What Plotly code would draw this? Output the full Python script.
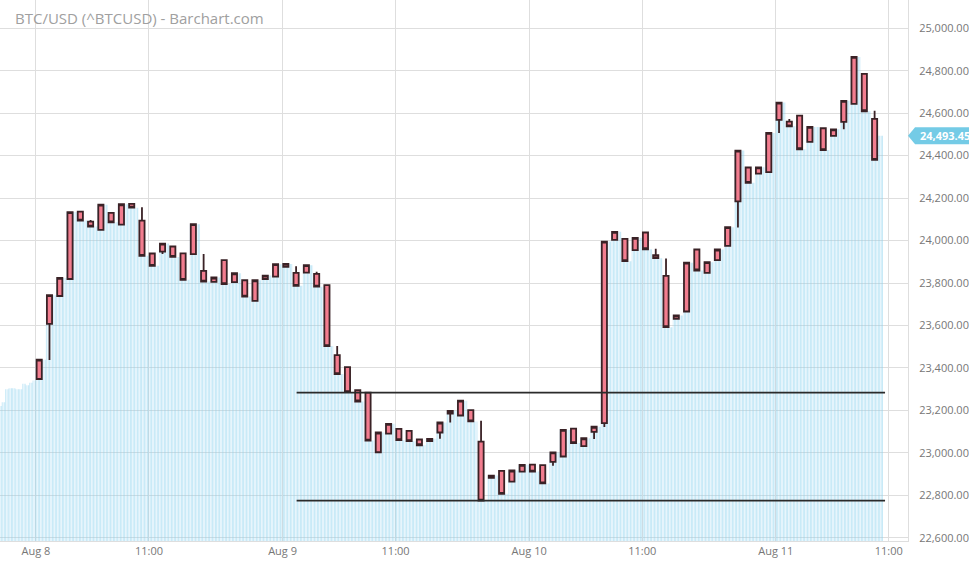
import pandas as pd
import plotly.graph_objects as go

# ---------------- data ----------------
title_text = "BTC/USD (^BTCUSD) - Barchart.com"

# hourly candles (timestamps of candle centres)
candle_times = (list(pd.date_range("2022-08-08 00:19", periods=76, freq="h")) +
                list(pd.date_range("2022-08-11 04:37", periods=6, freq="h")))

opens = [23348, 23608, 23739, 23819, 24136, 24089, 24050, 24130, 24075, 24173,
         24094, 23939, 23948, 23972, 23940, 23936, 23857, 23805, 23908, 23804,
         23813, 23716, 23819, 23830, 23876, 23848, 23849, 23843, 23790, 23460,
         23404, 23295, 23284, 23003, 23091, 23113, 23104, 23063, 23055, 23096,
         23185, 23176, 23201, 23053, 22882, 22915, 22865, 22912, 22945, 22942,
         22958, 22983, 23114, 23032, 23099, 23140, 24003, 24008, 23955, 24038,
         23931, 23834, 23631, 23666, 23958, 23848, 23908, 23975, 24185, 24344,
         24315, 24322, 24568, 24560, 24588, 24465, 24529, 24493, 24559, 24644,
         24785, 24573]
highs = [23439, 23743, 23824, 24134, 24136, 24097, 24169, 24130, 24171, 24173,
         24157, 23939, 23986, 23972, 23940, 24077, 23937, 23826, 23908, 23846,
         23813, 23813, 23835, 23889, 23890, 23879, 23884, 23853, 23790, 23503,
         23404, 23295, 23284, 23096, 23137, 23113, 23104, 23063, 23066, 23143,
         23198, 23246, 23201, 23151, 22893, 22915, 22917, 22944, 22945, 22942,
         23002, 23108, 23114, 23069, 23123, 23995, 24041, 24008, 24013, 24038,
         23961, 23915, 23647, 23896, 23958, 23898, 23958, 24063, 24424, 24344,
         24345, 24507, 24650, 24572, 24588, 24535, 24529, 24524, 24658, 24865,
         24785, 24611]
lows = [23348, 23438, 23739, 23819, 24094, 24066, 24050, 24086, 24075, 24155,
        23928, 23881, 23937, 23923, 23815, 23936, 23807, 23805, 23795, 23804,
        23736, 23716, 23819, 23830, 23876, 23787, 23849, 23783, 23503, 23371,
        23286, 23242, 23058, 23003, 23091, 23060, 23055, 23036, 23055, 23066,
        23143, 23176, 23148, 22775, 22882, 22807, 22865, 22912, 22912, 22856,
        22939, 22983, 23046, 23032, 23065, 23122, 24003, 23903, 23955, 23959,
        23917, 23592, 23631, 23666, 23859, 23848, 23908, 23975, 24061, 24272,
        24315, 24322, 24507, 24538, 24430, 24465, 24426, 24493, 24524, 24644,
        24609, 24380]
closes = [23439, 23743, 23824, 24134, 24094, 24066, 24169, 24086, 24171, 24155,
          23928, 23881, 23986, 23923, 23815, 24077, 23807, 23826, 23795, 23846,
          23736, 23813, 23835, 23889, 23890, 23787, 23884, 23783, 23503, 23371,
          23286, 23242, 23058, 23096, 23137, 23060, 23055, 23036, 23066, 23143,
          23198, 23246, 23148, 22775, 22893, 22807, 22917, 22944, 22912, 22856,
          23002, 23108, 23046, 23069, 23123, 23995, 24041, 23903, 24013, 23959,
          23917, 23592, 23647, 23896, 23859, 23898, 23958, 24063, 24424, 24272,
          24345, 24507, 24650, 24538, 24430, 24535, 24426, 24524, 24658, 24865,
          24609, 24380]

# price history before the first candle (20-minute steps)
pre_times = list(pd.date_range("2022-08-07 20:20", periods=11, freq="20min"))
pre_values = [23221, 23239, 23300, 23305, 23305, 23300, 23300, 23326, 23318, 23330, 23341]

last_price = 24493.45
last_time = pd.Timestamp("2022-08-11 10:26")

# horizontal levels
level_values = [23284, 22775]
level_start = "2022-08-09 01:22"
level_end = "2022-08-11 10:38"

# axes
x_range = ["2022-08-07 20:30", "2022-08-11 12:52"]
x_tickvals = ["2022-08-08 00:00", "2022-08-08 11:00", "2022-08-09 00:00", "2022-08-09 11:00",
              "2022-08-10 00:00", "2022-08-10 11:00", "2022-08-11 00:00", "2022-08-11 11:00"]
x_ticktext = ["Aug 8", "11:00", "Aug 9", "11:00", "Aug 10", "11:00", "Aug 11", "11:00"]
y_range = [22585, 25133]
y_tickvals = list(range(22600, 25001, 200))

# ---------------- figure ----------------
half = pd.Timedelta(minutes=21)
edges = pre_times + [t - half for t in candle_times] + [candle_times[-1] + half, last_time]
seg_values = pre_values + closes + [last_price]
seg_centers = [edges[k] + (edges[k + 1] - edges[k]) / 2 for k in range(len(seg_values))]
seg_widths = [(edges[k + 1] - edges[k]).total_seconds() * 1000 for k in range(len(seg_values))]

fig = go.Figure()

# price area (bars are drawn beneath the candles)
fig.add_trace(go.Bar(
    x=seg_centers, y=seg_values, width=seg_widths,
    marker=dict(color="rgba(0,0,0,0)", line=dict(width=0),
                pattern=dict(shape="|", size=3.4, solidity=0.72,
                             fgcolor="rgba(135,208,238,0.9)", bgcolor="rgba(255,255,255,0)")),
    hoverinfo="skip", showlegend=False))

candle_style = dict(fillcolor="#f27d8f", line=dict(color="#3a2226", width=1.8))
fig.add_trace(go.Candlestick(
    x=candle_times, open=opens, high=highs, low=lows, close=closes,
    increasing=candle_style, decreasing=dict(candle_style), whiskerwidth=0,
    showlegend=False))

for lv in level_values:
    fig.add_shape(type="line", xref="x", yref="y", x0=level_start, x1=level_end,
                  y0=lv, y1=lv, line=dict(color="#2b2b2b", width=1.6), layer="above")

# last price tag
tag_h = 40
fig.add_shape(type="path", xref="paper", yref="y", layer="above",
              path=(f"M 1.0,{last_price} L 1.0078,{last_price + tag_h} "
                    f"L 1.08,{last_price + tag_h} L 1.08,{last_price - tag_h} "
                    f"L 1.0078,{last_price - tag_h} Z"),
              fillcolor="#74cbe6", line=dict(width=0))
fig.add_annotation(xref="paper", yref="y", x=1.0105, y=last_price, xanchor="left",
                   yanchor="middle", text=f"<b>{last_price:,.2f}</b>", showarrow=False,
                   font=dict(family="Open Sans", size=11, color="white"))

fig.add_annotation(xref="paper", yref="paper", x=13 / 908, y=1 - 18 / 541,
                   xanchor="left", yanchor="middle", text=title_text, showarrow=False,
                   font=dict(family="Open Sans", size=15, color="#a0a0a0"))

fig.update_layout(
    width=969, height=561,
    margin=dict(l=0, r=61, t=0, b=20),
    paper_bgcolor="white", plot_bgcolor="white",
    font=dict(family="Open Sans", size=11, color="#777777"),
    showlegend=False, boxgap=0.28, barmode="overlay",
    xaxis=dict(type="date", range=x_range, tickvals=x_tickvals, ticktext=x_ticktext,
               showgrid=True, gridcolor="#dedede", gridwidth=1,
               showline=True, linecolor="#dedede", linewidth=1,
               ticks="", rangeslider=dict(visible=False), zeroline=False,
               tickfont=dict(size=11, color="#777777")),
    yaxis=dict(side="right", range=y_range, tickvals=y_tickvals, tickformat=",.2f",
               showgrid=True, gridcolor="#dedede", gridwidth=1,
               showline=True, linecolor="#dedede", linewidth=1,
               ticks="outside", ticklen=8, tickcolor="rgba(0,0,0,0)", zeroline=False,
               tickfont=dict(size=11, color="#777777")),
)

fig.write_html("out.html", config={"displayModeBar": False},
               post_script="document.body.style.margin='0';")
